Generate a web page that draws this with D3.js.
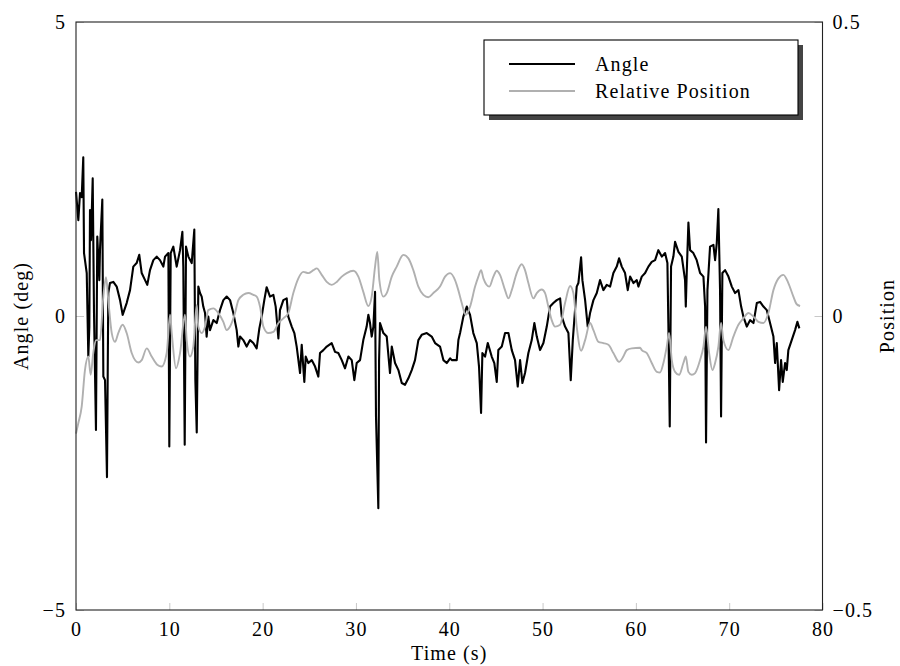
<!doctype html>
<html>
<head>
<meta charset="UTF-8">
<title>angle-position</title>
<script src="https://cdn.jsdelivr.net/npm/d3@7"></script>
<style>
  body { margin: 0; background: #fff; }
  text { font-family: "Liberation Serif", "Times New Roman", serif; fill: #000; letter-spacing: 1.1px; }
</style>
</head>
<body>
<svg id="chart" width="900" height="666"></svg>
<script>
// angle series (deg)
var angleTime = [0.00,0.25,0.43,0.61,0.78,0.86,1.15,1.32,1.43,1.50,1.61,1.79,1.93,2.14,2.28,2.50,2.57,2.82,2.93,3.11,3.32,3.46,3.64,4.00,4.36,4.72,5.00,5.43,5.79,6.14,6.50,6.78,7.04,7.40,7.64,7.93,8.29,8.65,9.00,9.36,9.54,9.90,10.00,10.15,10.43,10.79,11.15,11.40,11.50,11.65,11.79,12.04,12.40,12.68,12.79,12.94,13.11,13.29,13.47,13.64,13.83,14.00,14.18,14.36,14.72,15.08,15.43,15.79,16.15,16.51,16.86,17.22,17.40,17.58,17.93,18.29,18.65,19.00,19.36,19.65,
  19.90,20.18,20.43,20.79,21.15,21.40,21.69,21.86,22.22,22.58,22.75,23.12,23.40,23.65,24.01,24.19,24.47,24.62,24.90,25.26,25.62,25.97,26.15,26.51,26.87,27.40,27.76,28.11,28.48,28.83,29.19,29.55,29.83,30.08,30.44,30.79,31.15,31.33,31.51,31.69,31.87,32.05,32.15,32.40,32.48,32.58,32.94,33.30,33.65,33.84,34.19,34.55,34.91,35.26,35.62,35.98,36.33,36.69,37.05,37.59,38.12,38.48,39.01,39.37,39.73,40.09,
  40.27,40.80,40.98,41.16,41.51,41.88,42.23,42.58,42.95,43.19,43.41,43.55,43.84,44.13,44.55,44.83,45.09,45.26,45.63,45.98,46.34,46.70,47.05,47.34,47.59,47.84,48.12,48.48,48.84,49.12,49.38,49.73,50.09,50.45,50.80,51.16,51.52,51.88,52.06,52.41,52.77,53.02,53.24,53.48,53.66,53.84,54.13,54.27,54.56,54.84,55.09,55.45,55.81,56.16,56.52,56.88,57.24,57.59,57.95,58.20,58.49,58.84,59.13,59.38,59.74,60.10,
  60.27,60.63,60.99,61.34,61.70,62.06,62.41,62.78,63.13,63.38,63.48,63.63,63.77,64.02,64.20,64.56,64.92,65.27,65.35,65.45,65.63,65.81,66.16,66.52,66.88,67.24,67.42,67.52,67.67,67.95,68.31,68.49,68.67,68.84,69.02,69.13,69.27,69.56,69.92,70.28,70.63,70.99,71.28,71.52,71.89,72.24,72.60,72.96,73.31,73.67,74.03,74.38,74.74,74.92,75.10,75.35,75.56,75.74,75.99,76.17,76.34,76.70,77.06,77.31,77.52];
var angleValues = [2.11,1.63,2.09,2.02,2.70,1.07,0.73,-0.69,-0.18,1.80,1.29,2.34,0.05,-1.94,1.35,0.61,1.12,1.98,-1.03,-1.09,-2.74,0.39,0.56,0.58,0.50,0.27,0.02,0.22,0.44,0.84,0.90,1.04,0.73,0.61,0.53,0.78,0.95,1.01,0.95,0.84,1.01,1.07,-2.22,1.07,1.18,0.84,1.12,1.43,0.84,-2.19,1.18,1.01,0.90,1.47,-1.09,-1.98,0.50,0.39,0.33,0.16,0.05,-0.35,-0.01,-0.24,-0.07,-0.12,0.10,0.27,0.33,0.27,0.05,-0.24,-0.52,-0.35,-0.41,-0.52,-0.41,-0.46,-0.55,-0.21,
  -0.01,0.27,0.49,0.33,0.36,0.16,-0.38,0.10,0.27,0.30,-0.01,-0.18,-0.29,-0.52,-0.97,-0.49,-1.12,-0.69,-0.80,-0.75,-0.86,-1.03,-0.63,-0.58,-0.52,-0.46,-0.61,-0.63,-0.75,-0.89,-0.69,-0.75,-1.09,-0.80,-0.75,-0.41,-0.18,0.02,-0.12,-0.35,-0.18,0.41,-1.71,-3.27,-0.75,-0.12,-0.29,-0.35,-0.97,-0.52,-0.80,-0.92,-1.14,-1.17,-1.06,-0.92,-0.75,-0.41,-0.32,-0.29,-0.35,-0.46,-0.52,-0.75,-0.80,-0.72,
  -0.75,-0.75,-0.41,-0.29,-0.01,0.16,0.02,-0.29,-0.46,-0.86,-1.65,-0.63,-0.69,-0.46,-0.69,-0.80,-1.12,-0.58,-0.52,-0.29,-0.29,-0.58,-0.75,-1.20,-0.75,-1.14,-0.97,-0.63,-0.41,-0.12,-0.35,-0.58,-0.46,-0.18,0.16,0.22,0.27,0.30,-0.01,-0.18,-0.29,-1.09,-0.41,0.10,0.50,0.56,1.00,0.61,0.27,-0.18,0.05,0.27,0.39,0.61,0.44,0.53,0.50,0.73,0.84,0.98,0.84,0.73,0.44,0.67,0.56,0.61,
  0.50,0.67,0.73,0.84,0.92,0.95,1.12,1.01,1.07,0.90,-0.12,-1.88,0.84,1.01,1.26,1.09,1.01,0.61,0.16,0.73,1.59,1.12,1.07,0.95,0.73,0.67,0.16,-2.15,0.44,1.18,1.21,0.95,1.24,1.82,0.44,-1.71,0.73,0.78,0.67,0.50,0.39,0.44,0.16,-0.01,-0.18,-0.07,-0.12,0.22,0.24,0.16,0.10,-0.12,-0.35,-0.80,-0.46,-1.26,-0.75,-1.12,-0.80,-0.92,-0.58,-0.41,-0.24,-0.10,-0.21];

// relative position series
var posTime = [0.00,0.25,0.61,0.96,1.32,1.57,1.85,2.14,2.57,2.93,3.22,3.46,3.83,4.18,4.53,5.00,5.43,5.97,6.68,7.04,7.58,8.11,8.71,9.18,9.72,10.08,10.26,10.72,11.15,11.68,11.86,12.22,12.57,12.94,13.11,13.47,13.83,14.18,14.72,15.25,15.79,16.15,16.51,17.04,17.40,17.93,18.47,19.00,19.36,19.72,
  20.08,20.61,21.15,21.69,22.22,22.75,23.29,23.83,24.36,24.90,25.44,25.80,26.33,26.87,27.40,27.94,28.48,29.01,29.72,30.26,30.79,31.33,31.69,32.05,32.29,32.51,32.94,33.30,33.84,34.37,35.08,35.62,36.15,36.69,37.23,37.76,38.30,39.01,39.55,40.09,
  40.62,40.97,41.34,41.77,42.23,42.77,43.12,43.41,43.66,44.30,44.73,45.09,45.44,45.98,46.34,46.70,47.23,47.77,48.12,48.48,49.02,49.38,49.91,50.27,50.62,50.98,51.34,51.88,52.41,52.95,53.30,53.66,54.13,54.56,55.09,55.45,55.99,56.52,57.06,57.59,58.20,58.66,59.02,59.56,60.45,
  60.63,61.17,61.70,62.24,62.59,62.95,63.31,63.56,63.85,64.20,64.63,65.09,65.35,65.63,65.99,66.35,66.88,67.24,67.52,67.85,68.20,68.49,68.84,69.13,69.38,69.92,70.45,70.99,71.52,72.06,72.60,73.13,73.67,74.20,74.74,75.28,75.81,76.34,76.88,77.24,77.60];
var posValues = [-0.200,-0.182,-0.154,-0.092,-0.069,-0.100,-0.063,-0.041,-0.041,0.033,0.066,0.027,-0.029,-0.044,-0.029,-0.015,-0.029,-0.063,-0.079,-0.075,-0.055,-0.069,-0.083,-0.086,-0.063,0.002,-0.029,-0.089,-0.063,0.002,-0.041,-0.069,-0.052,0.019,-0.018,-0.029,-0.018,0.010,0.013,0.005,-0.010,-0.024,-0.018,0.005,0.027,0.036,0.039,0.036,0.033,0.016,
  -0.018,-0.029,-0.027,-0.012,-0.004,0.005,0.039,0.064,0.075,0.073,0.078,0.081,0.070,0.058,0.053,0.058,0.067,0.073,0.077,0.067,0.041,0.017,0.033,0.084,0.109,0.061,0.033,0.039,0.067,0.084,0.104,0.098,0.078,0.050,0.036,0.032,0.039,0.050,0.067,0.073,
  0.061,0.044,0.022,0.002,0.016,0.050,0.067,0.078,0.064,0.050,0.067,0.077,0.070,0.044,0.030,0.044,0.073,0.088,0.078,0.056,0.030,0.039,0.045,0.039,0.016,-0.007,-0.018,-0.015,0.022,0.051,0.039,-0.018,-0.059,-0.041,-0.012,-0.024,-0.044,-0.046,-0.049,-0.063,-0.078,-0.069,-0.058,-0.055,-0.054,
  -0.058,-0.063,-0.080,-0.095,-0.096,-0.080,-0.052,-0.029,-0.075,-0.095,-0.100,-0.080,-0.069,-0.095,-0.100,-0.097,-0.075,-0.052,-0.018,-0.063,-0.092,-0.080,-0.052,-0.012,-0.041,-0.058,-0.035,-0.015,-0.004,0.005,-0.001,-0.010,-0.012,0.005,0.044,0.064,0.070,0.056,0.033,0.020,0.017];

var xTicks = [0, 10, 20, 30, 40, 50, 60, 70, 80];
var leftTicks = [-5, 0, 5];
var rightTicks = [-0.5, 0, 0.5];
var seriesNames = ["Angle", "Relative Position"];

var W = 900, H = 666;
var m = {left: 76, right: 77.5, top: 22, bottom: 56};
var pw = W - m.left - m.right, ph = H - m.top - m.bottom;
var fs = "20px";

var svg = d3.select("#chart");
var g = svg.append("g").attr("transform", "translate(" + m.left + "," + m.top + ")");

var x = d3.scaleLinear().domain([0, 80]).range([0, pw]);
var yL = d3.scaleLinear().domain([-5, 5]).range([ph, 0]);
var yR = d3.scaleLinear().domain([-0.5, 0.5]).range([ph, 0]);

function fmt(d) { return d3.format("")(d).replace("-", "\u2212"); }

// axes (ticks point inward)
var xa = g.append("g").attr("transform", "translate(0," + ph + ")")
  .call(d3.axisBottom(x).tickValues(xTicks).tickSizeInner(-7).tickSizeOuter(0).tickPadding(12).tickFormat(fmt));
var la = g.append("g")
  .call(d3.axisLeft(yL).tickValues(leftTicks).tickSizeInner(-8).tickSizeOuter(0).tickPadding(10).tickFormat(fmt));
var ra = g.append("g").attr("transform", "translate(" + pw + ",0)")
  .call(d3.axisRight(yR).tickValues(rightTicks).tickSizeInner(-8).tickSizeOuter(0).tickPadding(10).tickFormat(fmt));

[xa, la, ra].forEach(function(a) {
  a.select(".domain").remove();
  a.selectAll(".tick line").attr("stroke", "#c8c8c8").attr("stroke-width", 1);
  a.selectAll(".tick text").style("font-family", "Liberation Serif, serif").style("font-size", fs);
});

// lines
var angleData = angleTime.map(function(t, i) { return [t, angleValues[i]]; });
var posData = posTime.map(function(t, i) { return [t, posValues[i]]; });

g.append("path").datum(angleData)
  .attr("fill", "none").attr("stroke", "#000").attr("stroke-width", 2.1).attr("stroke-linejoin", "round")
  .attr("d", d3.line().x(function(d) { return x(d[0]); }).y(function(d) { return yL(d[1]); }));

g.append("path").datum(posData)
  .attr("fill", "none").attr("stroke", "#b0b0b0").attr("stroke-width", 1.9).attr("stroke-linejoin", "round")
  .attr("d", d3.line().curve(d3.curveMonotoneX).x(function(d) { return x(d[0]); }).y(function(d) { return yR(d[1]); }));

// frame
g.append("rect").attr("width", pw).attr("height", ph)
  .attr("fill", "none").attr("stroke", "#222").attr("stroke-width", 1.1);

// axis titles
svg.append("text").attr("x", m.left + pw / 2).attr("y", 660)
  .attr("text-anchor", "middle").style("font-size", fs).text("Time (s)");
svg.append("text").attr("transform", "translate(28," + (m.top + ph / 2) + ") rotate(-90)")
  .attr("text-anchor", "middle").style("font-size", fs).text("Angle (deg)");
svg.append("text").attr("transform", "translate(894," + (m.top + ph / 2) + ") rotate(-90)")
  .attr("text-anchor", "middle").style("font-size", fs).text("Position");

// legend
var lg = svg.append("g").attr("transform", "translate(484,40)");
lg.append("rect").attr("x", 5).attr("y", 5).attr("width", 314).attr("height", 75).attr("fill", "#444");
lg.append("rect").attr("width", 314).attr("height", 75).attr("fill", "#fff").attr("stroke", "#000").attr("stroke-width", 1.1);
var colors = ["#000", "#b0b0b0"];
seriesNames.forEach(function(name, i) {
  var yy = 24 + i * 27;
  lg.append("line").attr("x1", 25).attr("x2", 91).attr("y1", yy).attr("y2", yy)
    .attr("stroke", colors[i]).attr("stroke-width", 2);
  lg.append("text").attr("x", 111).attr("y", yy + 7).style("font-size", fs).text(name);
});
</script>
</body>
</html>
